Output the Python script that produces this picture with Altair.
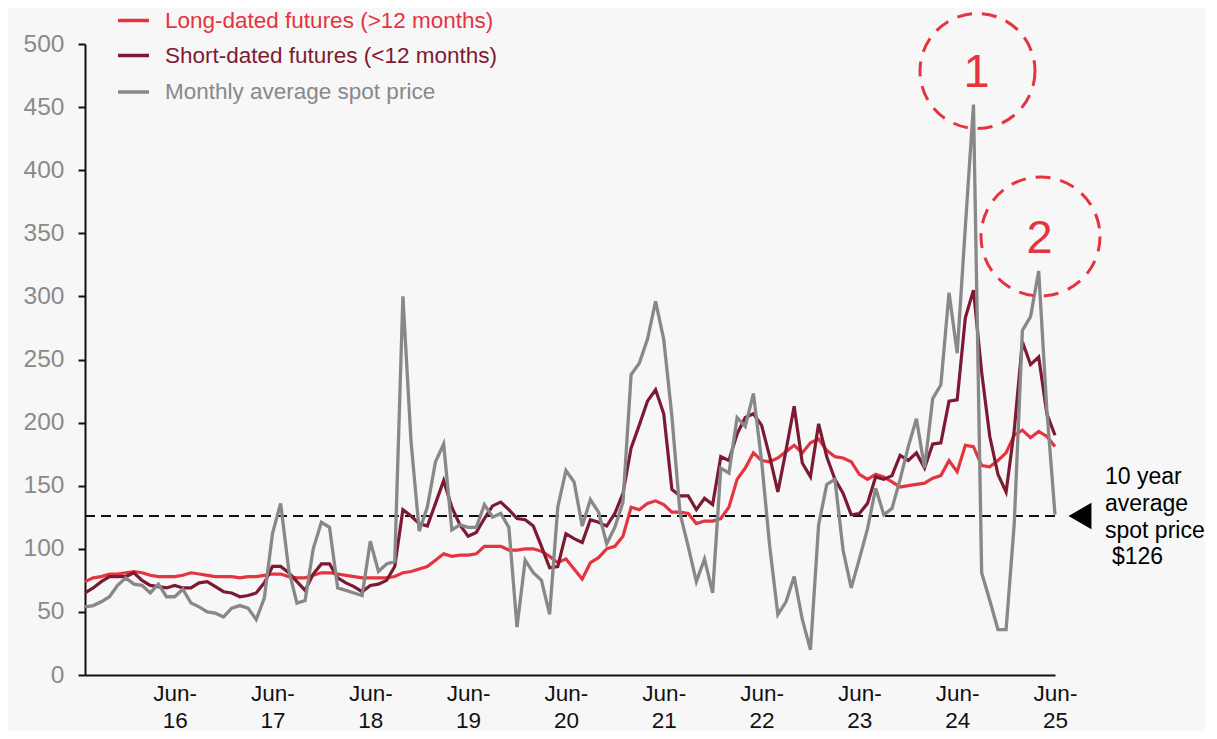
import altair as alt
import pandas as pd

FONT = "Liberation Sans"
RED = "#e4343f"
DARK = "#7c1a33"
GREY = "#888888"

# Monthly data, Jul-2015 .. Jun-2025 (index 0..119)
long_dated = [
    74, 77, 78, 80, 80, 81, 82, 81, 79, 78,
    78, 78, 79, 81, 80, 79, 78, 78, 78, 77,
    78, 78, 79, 80, 80, 78, 77, 77, 79, 81,
    81, 80, 79, 78, 77, 77, 77, 77, 78, 81,
    82, 84, 86, 91, 96, 94, 95, 95, 96, 102,
    102, 102, 99, 99, 100, 100, 98, 94, 89, 92,
    84, 76, 89, 93, 100, 102, 110, 133, 131, 136,
    138, 135, 129, 129, 128, 120, 122, 122, 124, 133,
    155, 164, 176, 170, 169, 172, 177, 182, 176, 184,
    187, 178, 173, 172, 169, 159, 155, 159, 157, 153,
    149, 150, 151, 152, 156, 158, 170, 161, 182, 181,
    166, 165, 170, 176, 190, 194, 188, 193, 189, 181,
]
short_dated = [
    65, 69, 74, 78, 78, 78, 81, 75, 71, 70,
    69, 71, 69, 69, 73, 74, 70, 66, 65, 62,
    63, 65, 73, 86, 86, 81, 74, 67, 80, 88,
    88, 77, 73, 70, 66, 71, 72, 75, 86, 131,
    126, 120, 118, 136, 154, 133, 119, 110, 113, 124,
    134, 137, 131, 124, 123, 118, 102, 85, 86, 112,
    108, 105, 123, 121, 118, 128, 144, 180, 198, 217,
    226, 207, 147, 142, 142, 131, 140, 135, 173, 170,
    191, 204, 207, 198, 173, 145, 178, 213, 168, 157,
    199, 173, 155, 144, 127, 128, 136, 157, 155, 158,
    174, 170, 176, 164, 183, 184, 217, 218, 283, 305,
    240, 189, 159, 145, 194, 264, 246, 252, 207, 190,
]
spot = [
    54, 55, 58, 62, 71, 77, 72, 71, 65, 72,
    62, 62, 68, 57, 54, 50, 49, 46, 53, 55,
    53, 44, 61, 112, 136, 83, 57, 59, 100, 121,
    117, 69, 67, 65, 63, 106, 82, 88, 90, 300,
    185, 114, 133, 169, 183, 115, 119, 117, 117, 135,
    125, 128, 117, 38, 91, 81, 75, 48, 133, 162,
    153, 118, 139, 129, 104, 117, 137, 238, 247, 266,
    296, 266, 205, 128, 102, 74, 92, 65, 164, 160,
    204, 197, 223, 170, 102, 48, 58, 78, 44, 20,
    119, 151, 155, 99, 69, 92, 116, 148, 127, 132,
    155, 181, 203, 164, 219, 230, 303, 255, 355, 452,
    81, 59, 36, 36, 120, 273, 284, 320, 210, 127,
]
tick_index = [11, 23, 35, 47, 59, 71, 83, 95, 107, 119]
tick_labels = ["Jun-16", "Jun-17", "Jun-18", "Jun-19", "Jun-20",
               "Jun-21", "Jun-22", "Jun-23", "Jun-24", "Jun-25"]
y_ticks = [0, 50, 100, 150, 200, 250, 300, 350, 400, 450, 500]
ten_year_avg = 126
series_names = ["Long-dated futures (>12 months)",
                "Short-dated futures (<12 months)",
                "Monthly average spot price"]
avg_text = ["10 year", "average", "spot price"]
avg_value_text = "$126"

n = len(spot)
df = pd.DataFrame({"m": list(range(n)), "long": long_dated,
                   "short": short_dated, "spot": spot})
one = pd.DataFrame({"k": [0]})

# x label expression (two-line labels)
expr = "''"
for idx, lab in reversed(list(zip(tick_index, tick_labels))):
    a, b = lab.split("-")
    expr = f"datum.value == {idx} ? ['{a}-', '{b}'] : ({expr})"

x_enc = alt.X("m:Q", scale=alt.Scale(domain=[0, n - 1], nice=False, zero=False),
              axis=alt.Axis(values=tick_index, labelExpr=expr, ticks=False, grid=False,
                            title=None, domainColor="#111111", domainWidth=2,
                            labelColor="#111111", labelFontSize=22.5, labelFont=FONT,
                            labelPadding=7, labelLineHeight=27, labelFlush=False,
                            labelOverlap=False))


def y_enc(field):
    return alt.Y(f"{field}:Q", scale=alt.Scale(domain=[0, 500], nice=False),
                 axis=alt.Axis(values=y_ticks, grid=False, title=None,
                               domainColor="#111111", domainWidth=2,
                               tickColor="#111111", tickWidth=2, tickSize=7,
                               labelColor="#8a8a8a", labelFontSize=24.5, labelFont=FONT,
                               labelPadding=14))


avg_rule = alt.Chart(one).mark_rule(color="#111111", strokeWidth=1.8,
                                    strokeDash=[10, 6]).encode(y=alt.datum(ten_year_avg))

line_long = alt.Chart(df).mark_line(color=RED, strokeWidth=3.2).encode(x=x_enc, y=y_enc("long"))
line_short = alt.Chart(df).mark_line(color=DARK, strokeWidth=3.2).encode(x=x_enc, y=y_enc("short"))
line_spot = alt.Chart(df).mark_line(color=GREY, strokeWidth=3.3).encode(x=x_enc, y=y_enc("spot"))

triangle = alt.Chart(one).mark_point(shape="triangle-left", filled=True, color="#000000",
                                     size=700, opacity=1).encode(
    x=alt.value(995), y=alt.datum(ten_year_avg))
avg_label = alt.Chart(one).mark_text(align="left", baseline="middle", fontSize=23,
                                     font=FONT, lineHeight=27, color="#000000",
                                     dy=-39).encode(
    x=alt.value(1020), y=alt.datum(ten_year_avg), text=alt.value(avg_text))
avg_value = alt.Chart(one).mark_text(align="left", baseline="middle", fontSize=23,
                                     font=FONT, color="#000000", dy=41).encode(
    x=alt.value(1027), y=alt.datum(ten_year_avg), text=alt.value(avg_value_text))


def circle(cx, cy, d, label):
    c = alt.Chart(one).mark_point(shape="circle", filled=False, size=d * d, strokeWidth=3,
                                  strokeDash=[15, 10], color=RED, opacity=1).encode(
        x=alt.value(cx), y=alt.value(cy))
    t = alt.Chart(one).mark_text(fontSize=47, font=FONT, color=RED, align="center",
                                 baseline="middle").encode(
        x=alt.value(cx - 1), y=alt.value(cy + 2), text=alt.value(label))
    return [c, t]


def legend_item(ry, label, color):
    sw = alt.Chart(one).mark_rule(color=color, strokeWidth=3.5).encode(
        x=alt.value(33), x2=alt.value(64), y=alt.value(ry))
    tx = alt.Chart(one).mark_text(align="left", baseline="middle", fontSize=22.5, font=FONT,
                                  color=color).encode(
        x=alt.value(80), y=alt.value(ry), text=alt.value(label))
    return [sw, tx]


layers = [avg_rule, line_long, line_short, line_spot, triangle, avg_label, avg_value]
layers += circle(892.5, 27, 115, "1")
layers += circle(955.5, 192.5, 119, "2")
layers += legend_item(-23.5, series_names[0], RED)
layers += legend_item(11.5, series_names[1], DARK)
layers += legend_item(48, series_names[2], GREY)

chart = alt.layer(*layers).properties(
    width=970, height=631,
    autosize=alt.AutoSizeParams(type="none"),
    padding={"left": 77, "top": 36, "right": 150, "bottom": 56},
    background="#f7f7f7",
).configure_view(stroke=None)

chart.save("out.html", embed_options={"renderer": "svg", "actions": False})
